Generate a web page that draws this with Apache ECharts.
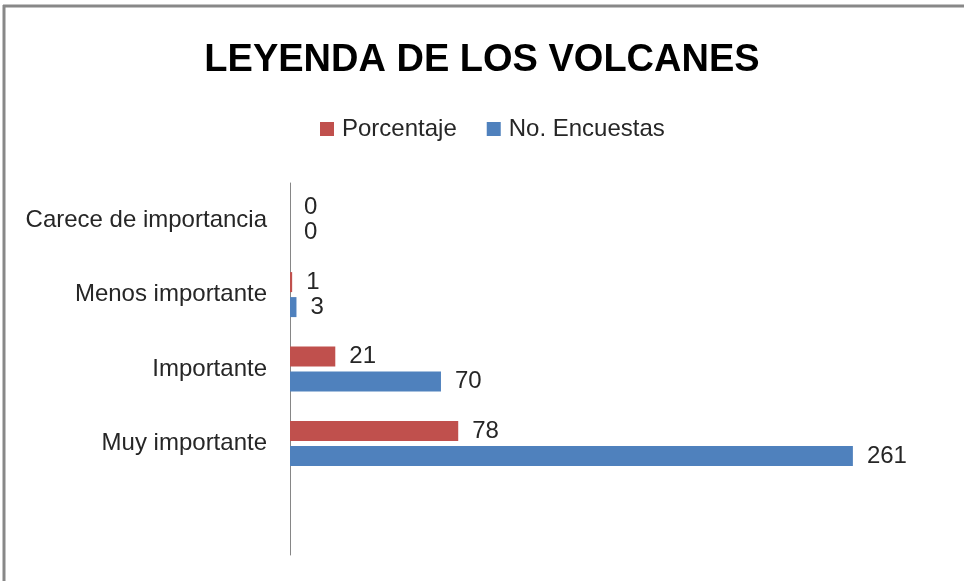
<!DOCTYPE html>
<html>
<head>
<meta charset="utf-8">
<script src="https://cdn.jsdelivr.net/npm/echarts@6/dist/echarts.min.js"></script>
<style>
  html, body { margin: 0; padding: 0; background: #fff; }
  #chart { width: 964px; height: 581px; }
</style>
</head>
<body>
<div id="chart"></div>
<script>
  // categorias de abajo hacia arriba (la primera queda vacia, como en el original)
  var categories = ['', 'Muy importante', 'Importante', 'Menos importante', 'Carece de importancia']
  var porcentaje = [null, 78, 21, 1, 0]
  var encuestas = [null, 261, 70, 3, 0]

  var font = 'Liberation Sans, Arial, sans-serif'
  var chart = echarts.init(document.getElementById('chart'))

  chart.setOption({
    animation: false,
    title: {
      text: 'LEYENDA DE LOS VOLCANES',
      left: 'center',
      top: 42,
      padding: 0,
      textStyle: {
        fontFamily: font,
        fontSize: 38,
        fontWeight: 'bold',
        color: '#000'
      }
    },
    legend: {
      data: ['Porcentaje', 'No. Encuestas'],
      left: 320,
      top: 117,
      padding: 0,
      itemWidth: 14,
      itemHeight: 14,
      itemGap: 30,
      icon: 'rect',
      textStyle: {
        fontFamily: font,
        fontSize: 24,
        color: '#262626',
        padding: [0, 0, 0, 3]
      }
    },
    grid: {
      left: 290,
      top: 183,
      right: 27,
      bottom: 26,
      containLabel: false
    },
    xAxis: {
      type: 'value',
      min: 0,
      max: 300,
      show: false
    },
    yAxis: {
      type: 'category',
      data: categories,
      axisLine: { show: true, lineStyle: { color: '#868686', width: 1 } },
      axisTick: { show: false },
      axisLabel: {
        margin: 23,
        fontFamily: font,
        fontSize: 24,
        color: '#262626'
      }
    },
    series: [
      {
        name: 'Porcentaje',
        type: 'bar',
        data: porcentaje,
        barWidth: 20,
        barGap: '25%',
        itemStyle: { color: '#C0504D' },
        label: {
          show: true,
          position: 'right',
          distance: 14,
          fontFamily: font,
          fontSize: 24,
          color: '#262626'
        }
      },
      {
        name: 'No. Encuestas',
        type: 'bar',
        data: encuestas,
        barWidth: 20,
        barGap: '25%',
        itemStyle: { color: '#4F81BD' },
        label: {
          show: true,
          position: 'right',
          distance: 14,
          fontFamily: font,
          fontSize: 24,
          color: '#262626'
        }
      }
    ],
    graphic: [
      { type: 'line', shape: { x1: 3, y1: 6, x2: 964, y2: 6 }, style: { stroke: '#888', lineWidth: 3 } },
      { type: 'line', shape: { x1: 4, y1: 5, x2: 4, y2: 581 }, style: { stroke: '#888', lineWidth: 3 } }
    ]
  })
</script>
</body>
</html>
